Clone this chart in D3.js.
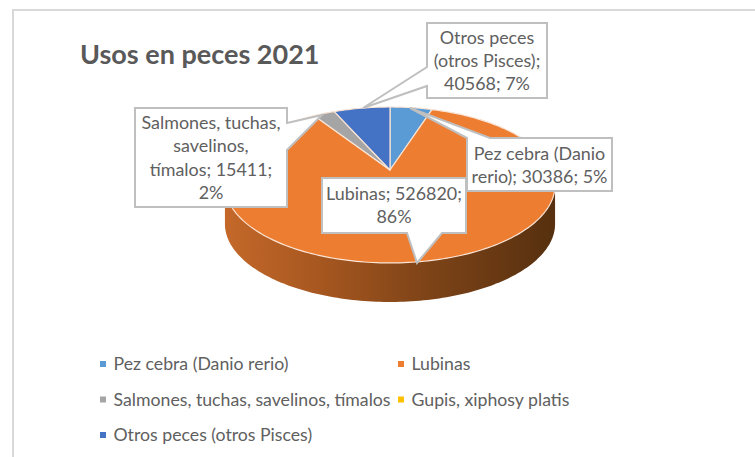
<!DOCTYPE html>
<html>
<head>
<meta charset="utf-8">
<script src="https://cdn.jsdelivr.net/npm/d3@7/dist/d3.min.js"></script>
<style>
  html, body { margin: 0; padding: 0; background: #fff; }
  svg { display: block; }
  text { font-family: Lato, "Open Sans", sans-serif; }
</style>
</head>
<body>
<div id="chart"></div>
<script>
// data
var categories = ["Pez cebra (Danio rerio)", "Lubinas", "Salmones, tuchas, savelinos, tímalos", "Gupis, xiphosy platis", "Otros peces (otros Pisces)"];
var values = [30386, 526820, 15411, 0, 40568];
var colors = ["#5b9bd5", "#ed7d31", "#a5a5a5", "#ffc000", "#4472c4"];

// label text split in lines, same order as categories (Gupis has no label)
var labelLines = [
  ["Pez cebra (Danio", "rerio); 30386; 5%"],
  ["Lubinas; 526820;", "86%"],
  ["Salmones, tuchas,", "savelinos,", "tímalos; 15411;", "2%"],
  null,
  ["Otros peces", "(otros Pisces);", "40568; 7%"]
];

var svgWidth = 755;
var svgHeight = 457;

var svg = d3.select("#chart").append("svg")
  .attr("width", svgWidth)
  .attr("height", svgHeight);

// chart frame, only top and left show in the crop
svg.append("path")
  .attr("d", "M13,457V10H755")
  .attr("fill", "none")
  .attr("stroke", "#d9d9d9")
  .attr("stroke-width", 2);

svg.append("text")
  .attr("x", 80)
  .attr("y", 64)
  .attr("font-size", 27)
  .attr("font-weight", 700)
  .attr("fill", "#595959")
  .text("Usos en peces 2021");

// 1. pie angles and the tilted projection of the disc---------------
var pie = d3.pie().sort(null).value(d => d)(values);

var apex = [390, 170];
var persp = -0.192;
var scaleU = d3.scaleLinear().domain([-1, 1]).range([-162, 162]);
var scaleV = d3.scaleLinear().domain([-1, 1]).range([-75.1, 75.1]);
var depth = 39;

function project(a) {
  var u = Math.sin(a), v = -Math.cos(a);
  var w = 1 + persp * v;
  return [apex[0] + scaleU(u) / w, apex[1] + scaleV(v) / w];
}

function rim(a0, a1) {
  var n = Math.max(2, Math.ceil((a1 - a0) / 0.02));
  return d3.range(n + 1).map(i => project(a0 + (a1 - a0) * i / n));
}

var line = d3.line();

// 2. side wall------------------------------------------------------
var defs = svg.append("defs");
var grad = defs.append("linearGradient")
  .attr("id", "wall")
  .attr("gradientUnits", "userSpaceOnUse")
  .attr("x1", 226).attr("x2", 555)
  .attr("y1", 0).attr("y2", 0);
grad.append("stop").attr("offset", "0%").attr("stop-color", "#c4682a");
grad.append("stop").attr("offset", "30%").attr("stop-color", "#a5561f");
grad.append("stop").attr("offset", "60%").attr("stop-color", "#7f4418");
grad.append("stop").attr("offset", "100%").attr("stop-color", "#56300f");

var rimPoints = rim(0, 2 * Math.PI);
var hull = d3.polygonHull(rimPoints.concat(rimPoints.map(p => [p[0], p[1] + depth])));
svg.append("path")
  .attr("d", line(hull) + "Z")
  .attr("fill", "url(#wall)");

// 3. top of the pie-------------------------------------------------
svg.append("g").selectAll("path")
  .data(pie.filter(d => d.value > 0))
  .enter().append("path")
  .attr("d", d => line([apex].concat(rim(d.startAngle, d.endAngle))) + "Z")
  .attr("fill", d => colors[d.index])
  .attr("stroke", "#fbe5d6")
  .attr("stroke-width", 1.2)
  .attr("stroke-linejoin", "round");

// 4. data label callouts--------------------------------------------
// box = x0, y0, x1, y1; wedge = where the pointer leaves the box and its tip
var callouts = [
  { i: 0, box: [467, 138, 612, 191], wedge: [[490, 138], [410, 108], [467, 138]], lineH: 23, first: 160 },
  { i: 1, box: [322, 178, 466, 233], wedge: [[442, 233], [417, 263], [407, 233]], lineH: 23, first: 200 },
  { i: 2, box: [135, 108, 287, 207], wedge: [[287, 150], [322, 115], [287, 123]], lineH: 23.3, first: 129 },
  { i: 4, box: [427, 23, 547, 98], wedge: [[427, 67], [363, 108], [427, 86]], lineH: 23, first: 44 }
];

var labels = svg.append("g").selectAll("g").data(callouts).enter().append("g");

labels.append("path")
  .attr("d", function(c) {
    var b = c.box;
    var w = c.wedge;
    // walk clockwise round the box, wedge goes in on the side it touches
    if (w[0][0] === b[2]) {
      return `M${b[0]},${b[1]}H${b[2]}V${w[2][1]}L${w[1]}L${w[0]}V${b[3]}H${b[0]}Z`;
    } else if (w[0][0] === b[0]) {
      return `M${b[0]},${b[1]}H${b[2]}V${b[3]}H${b[0]}V${w[2][1]}L${w[1]}L${w[0]}Z`;
    } else if (w[0][1] === b[3]) {
      return `M${b[0]},${b[1]}H${b[2]}V${b[3]}H${w[0][0]}L${w[1]}L${w[2]}H${b[0]}Z`;
    }
    return `M${b[0]},${b[1]}H${w[2][0]}L${w[1]}L${w[0]}H${b[2]}V${b[3]}H${b[0]}Z`;
  })
  .attr("fill", "#fff")
  .attr("stroke", "#bfbfbf")
  .attr("stroke-width", 2);

labels.selectAll("text")
  .data(c => labelLines[c.i].map((t, k) => ({ t: t, x: (c.box[0] + c.box[2]) / 2, y: c.first + k * c.lineH })))
  .enter().append("text")
  .attr("x", d => d.x)
  .attr("y", d => d.y)
  .attr("text-anchor", "middle")
  .attr("font-size", 17.9)
  .attr("fill", "#606060")
  .text(d => d.t);

// 5. legend---------------------------------------------------------
var legendX = d3.scaleOrdinal().domain([0, 1]).range([100, 398]);
var legendY = d3.scalePoint().domain([0, 1, 2]).range([364, 435]);

var legend = svg.append("g").selectAll("g")
  .data(categories)
  .enter().append("g")
  .attr("transform", (d, i) => `translate(${legendX(i % 2)},${legendY(Math.floor(i / 2))})`);

legend.append("rect")
  .attr("x", 0)
  .attr("y", -3)
  .attr("width", 6)
  .attr("height", 6)
  .attr("fill", (d, i) => colors[i]);

legend.append("text")
  .attr("x", 13.5)
  .attr("y", 6)
  .attr("font-size", 17.7)
  .attr("fill", "#606060")
  .text(d => d);
</script>
</body>
</html>
